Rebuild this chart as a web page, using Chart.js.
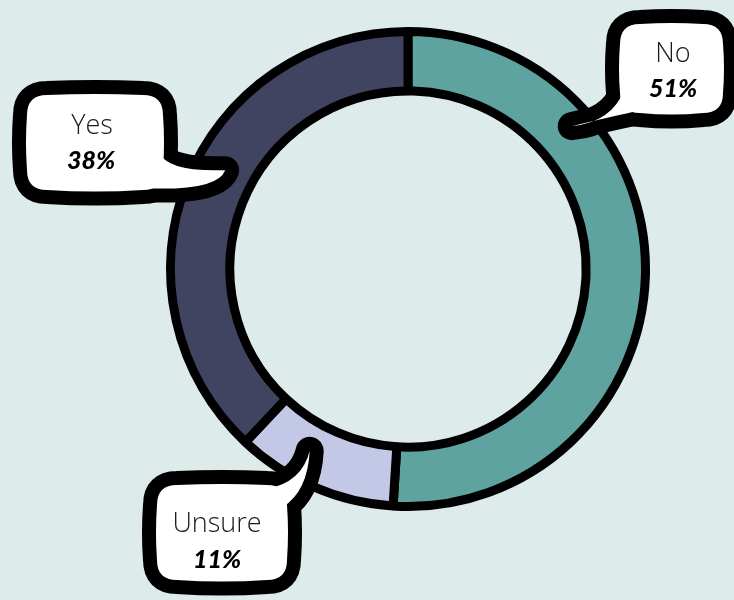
<!DOCTYPE html>
<html>
<head>
<meta charset="utf-8">
<script src="https://cdn.jsdelivr.net/npm/chart.js@4/dist/chart.umd.min.js"></script>
<style>
  html, body { margin: 0; padding: 0; background: #ddebea; }
  #wrap { width: 734px; height: 600px; position: relative; }
</style>
</head>
<body>
<div id="wrap"><canvas id="c" width="734" height="600"></canvas></div>
<script>
const categories = ['No', 'Unsure', 'Yes'];
const values = [51, 11, 38];
const colors = ['#5fa3a0', '#c3c8e6', '#414460'];

// Speech-bubble layout (white interior box, text anchors, tail direction)
const bubbles = [
  { // No
    box: [620, 24, 723, 113], text: [673, 62], pct: [673, 97], tailAngle: 48.9, tailR: 0.915,
    tailFrom: 'left', t1: 90, t2: 630
  },
  { // Unsure
    box: [157, 485, 287, 580], text: [217, 532], pct: [217, 568], tailAngle: 208.4, tailR: 0.87,
    tailFrom: 'topright', t1: 266, t2: 507
  },
  { // Yes
    box: [27, 95, 163, 190], text: [92, 134], pct: [91, 169], tailAngle: 298.4, tailR: 0.875,
    tailFrom: 'right', t1: 152, t2: 150
  }
];

function boxPath(ctx, b) {
  const [x0, y0, x1, y1] = b.box;
  const r = 20;
  ctx.beginPath();
  ctx.moveTo(x0 + r, y0);
  ctx.quadraticCurveTo((x0 + x1) / 2, y0 - 2, x1 - r, y0);
  ctx.quadraticCurveTo(x1, y0, x1, y0 + r);
  ctx.quadraticCurveTo(x1 + 2, (y0 + y1) / 2, x1, y1 - r);
  ctx.quadraticCurveTo(x1, y1, x1 - r, y1);
  ctx.quadraticCurveTo((x0 + x1) / 2, y1 + 3, x0 + r, y1);
  ctx.quadraticCurveTo(x0, y1, x0, y1 - r);
  ctx.quadraticCurveTo(x0 - 2, (y0 + y1) / 2, x0, y0 + r);
  ctx.quadraticCurveTo(x0, y0, x0 + r, y0);
  ctx.closePath();
}

function tailPath(ctx, b, tip) {
  const [x0, y0, x1, y1] = b.box;
  ctx.beginPath();
  if (b.tailFrom === 'right') {
    ctx.moveTo(x1 - 4, b.t1);
    ctx.quadraticCurveTo(x1 + 4, tip[1] + 2, tip[0], tip[1]);
    ctx.quadraticCurveTo(tip[0] - 8, y1 + 2, b.t2 - 10, y1 - 2);
    ctx.lineTo(x1 - 30, y1 - 20);
    ctx.closePath();
  } else if (b.tailFrom === 'left') {
    ctx.moveTo(x0 + 4, b.t1);
    ctx.quadraticCurveTo(x0 - 8, tip[1] - 4, tip[0], tip[1]);
    ctx.quadraticCurveTo(x0 - 2, y1 + 2, b.t2 + 8, y1 - 2);
    ctx.lineTo(x0 + 20, y1 - 20);
    ctx.closePath();
  } else {
    ctx.moveTo(b.t1, y0 + 4);
    ctx.quadraticCurveTo(tip[0] - 8, y0 - 2, tip[0], tip[1]);
    ctx.quadraticCurveTo(tip[0] - 2, y0 + 6, x1 - 4, b.t2);
    ctx.lineTo(x1 - 20, y0 + 20);
    ctx.closePath();
  }
}

const bubblePlugin = {
  id: 'bubbles',
  afterDraw(chart) {
    const ctx = chart.ctx;
    const meta = chart.getDatasetMeta(0);
    const arc = meta.data[0];
    const cx = arc.x, cy = arc.y, R = arc.outerRadius;
    const total = values.reduce((a, v) => a + v, 0);
    bubbles.forEach((b, i) => {
      const a = b.tailAngle * Math.PI / 180;
      const tip = [cx + R * b.tailR * Math.sin(a), cy - R * b.tailR * Math.cos(a)];
      ctx.save();
      ctx.lineJoin = 'round';
      ctx.lineCap = 'round';
      ctx.strokeStyle = '#000';
      ctx.lineWidth = 28;
      boxPath(ctx, b); ctx.stroke();
      tailPath(ctx, b, tip); ctx.stroke();
      ctx.fillStyle = '#fff';
      boxPath(ctx, b); ctx.fill();
      tailPath(ctx, b, tip); ctx.fill();
      ctx.fillStyle = '#1a1a1a';
      ctx.textAlign = 'center';
      ctx.textBaseline = 'alphabetic';
      ctx.font = '300 27px "Open Sans", "Noto Sans", sans-serif';
      ctx.fillText(categories[i], b.text[0], b.text[1]);
      ctx.font = 'italic 900 25px Lato, "DejaVu Sans", sans-serif';
      ctx.fillStyle = '#000';
      ctx.fillText(Math.round(values[i] / total * 100) + '%', b.pct[0], b.pct[1]);
      ctx.restore();
    });
  }
};

new Chart(document.getElementById('c'), {
  type: 'doughnut',
  data: {
    labels: categories,
    datasets: [{
      data: values,
      backgroundColor: colors,
      borderColor: '#000',
      borderWidth: 9,
      borderAlign: 'center',
      hoverOffset: 0
    }]
  },
  options: {
    responsive: false,
    animation: false,
    cutout: '75%',
    rotation: 0,
    layout: { padding: { left: 166, right: 84, top: 27, bottom: 89 } },
    plugins: {
      legend: { display: false },
      tooltip: { enabled: false },
      title: { display: false }
    }
  },
  plugins: [bubblePlugin]
});
</script>
</body>
</html>
